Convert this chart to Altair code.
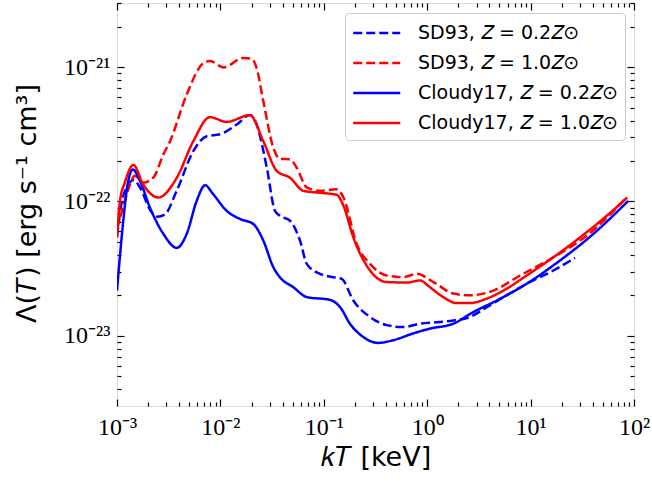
import altair as alt
import pandas as pd

# ---------------- data ----------------
names = ["SD93, 𝑍 = 0.2𝑍⊙", "SD93, 𝑍 = 1.0𝑍⊙",
         "Cloudy17, 𝑍 = 0.2𝑍⊙", "Cloudy17, 𝑍 = 1.0𝑍⊙"]
colors = ["#0000ff", "#ff0000", "#0000ff", "#ff0000"]
dashes = [[9, 4], [9, 4], [1, 0], [1, 0]]

# SD93, Z = 0.2 Zsun (blue dashed)
sd02_kT = [1.00e-3, 1.15e-3, 1.44e-3, 1.67e-3, 2.10e-3, 2.45e-3, 2.90e-3, 3.78e-3, 5.47e-3,
           7.38e-3, 9.91e-3, 1.44e-2, 1.93e-2, 2.24e-2, 2.81e-2, 3.37e-2, 3.77e-2,
           4.71e-2, 5.89e-2, 6.84e-2, 9.18e-2, 0.124, 0.149, 0.193, 0.280, 0.406,
           0.587, 0.851, 1.24, 1.79, 2.59, 3.76, 5.87, 9.16, 16.6, 26.9]
sd02_L = [5.5e-23, 1.10e-22, 1.44e-22, 1.27e-22, 8.6e-23, 7.7e-23, 8.0e-23, 1.20e-22, 2.37e-22,
          3.06e-22, 3.16e-22, 3.74e-22, 4.39e-22, 3.74e-22, 1.78e-22, 8.51e-23, 7.82e-23,
          7.18e-23, 5.11e-23, 3.43e-23, 2.89e-23, 2.73e-23, 2.65e-23, 1.83e-23, 1.38e-23, 1.20e-23,
          1.16e-23, 1.23e-23, 1.26e-23, 1.30e-23, 1.38e-23, 1.63e-23, 2.00e-23, 2.44e-23, 3.06e-23, 3.80e-23]

# SD93, Z = 1.0 Zsun (red dashed)
sd10_kT = [1.00e-3, 1.19e-3, 1.34e-3, 1.49e-3, 1.79e-3, 2.24e-3, 2.81e-3, 3.26e-3,
           4.72e-3, 6.84e-3, 7.93e-3, 1.07e-2, 1.66e-2, 2.01e-2, 2.24e-2, 2.60e-2,
           3.25e-2, 3.77e-2, 4.71e-2, 5.47e-2, 6.84e-2, 9.18e-2, 0.133, 0.155, 0.208,
           0.280, 0.406, 0.587, 0.791, 1.15, 1.79, 2.59, 4.36, 7.91, 16.6, 34.9, 84.9]
sd10_L = [6.2e-23, 1.01e-22, 1.35e-22, 1.55e-22, 1.38e-22, 1.50e-22, 2.24e-22, 2.81e-22,
          6.24e-22, 1.07e-21, 1.11e-21, 9.95e-22, 1.17e-21, 1.15e-21, 9.84e-22, 5.57e-22,
          2.51e-22, 2.07e-22, 2.06e-22, 1.78e-22, 1.27e-22, 1.20e-22, 1.23e-22, 1.07e-22, 4.82e-23,
          3.43e-23, 2.81e-23, 2.73e-23, 2.89e-23, 2.51e-23, 2.06e-23, 2.00e-23, 2.17e-23, 2.81e-23,
          3.84e-23, 5.56e-23, 1.07e-22]

# Cloudy17, Z = 0.2 Zsun (blue solid)
cl02_kT = [1.00e-3, 1.15e-3, 1.24e-3, 1.42e-3, 1.67e-3, 2.08e-3, 2.81e-3, 3.78e-3,
           4.72e-3, 5.90e-3, 7.10e-3, 8.53e-3, 1.15e-2, 1.55e-2, 2.08e-2, 2.60e-2,
           3.25e-2, 3.77e-2, 5.07e-2, 6.84e-2, 0.115, 0.144, 0.179, 0.241, 0.334,
           0.470, 0.730, 1.06, 1.79, 2.79, 4.70, 9.16, 19.2, 40.4, 88.1]
cl02_L = [2.17e-23, 7.18e-23, 1.20e-22, 1.73e-22, 1.42e-22, 9.02e-23, 5.73e-23, 4.51e-23,
          5.73e-23, 1.01e-22, 1.32e-22, 1.13e-22, 8.51e-23, 7.40e-23, 6.79e-23, 5.11e-23,
          3.24e-23, 2.72e-23, 2.30e-23, 1.94e-23, 1.85e-23, 1.63e-23, 1.23e-23, 9.79e-24, 8.85e-24,
          9.27e-24, 1.04e-23, 1.13e-23, 1.23e-23, 1.50e-23, 1.83e-23, 2.44e-23, 3.63e-23, 5.73e-23, 1.01e-22]

# Cloudy17, Z = 1.0 Zsun (red solid)
cl10_kT = [1.00e-3, 1.07e-3, 1.19e-3, 1.44e-3, 1.79e-3, 2.51e-3, 3.78e-3, 5.47e-3,
           7.93e-3, 1.15e-2, 1.93e-2, 2.60e-2, 3.50e-2, 4.71e-2, 6.34e-2, 9.18e-2,
           0.133, 0.155, 0.193, 0.280, 0.406, 0.634, 0.851, 1.06, 1.43, 1.93, 2.59,
           3.76, 5.87, 9.16, 16.6, 30.1, 54.5, 86.1]
cl10_L = [5.37e-23, 1.01e-22, 1.38e-22, 1.87e-22, 1.34e-22, 1.07e-22, 1.50e-22, 2.81e-22,
          4.24e-22, 3.91e-22, 4.39e-22, 2.81e-22, 1.69e-22, 1.50e-22, 1.20e-22, 1.16e-22,
          1.12e-22, 9.27e-23, 5.40e-23, 3.06e-23, 2.51e-23, 2.49e-23, 2.58e-23, 2.30e-23, 1.94e-23,
          1.75e-23, 1.75e-23, 1.89e-23, 2.24e-23, 2.81e-23, 3.84e-23, 5.40e-23, 7.82e-23, 1.07e-22]

x_major = [1e-3, 1e-2, 1e-1, 1e0, 1e1, 1e2]
x_major_labels = ["10⁻³", "10⁻²", "10⁻¹", "10⁰", "10¹", "10²"]
y_major = [1e-23, 1e-22, 1e-21]
y_major_labels = ["10⁻²³", "10⁻²²", "10⁻²¹"]

x_minor = [m * d for d in [1e-3, 1e-2, 1e-1, 1e0, 1e1] for m in range(2, 10)]
y_minor = [m * d for d in [1e-24, 1e-23, 1e-22, 1e-21] for m in range(2, 10)]
y_minor = [v for v in y_minor if 3e-24 <= v <= 3e-21]

# ---------------- table ----------------
frames = []
for nm, kt, lam in [(names[0], sd02_kT, sd02_L), (names[1], sd10_kT, sd10_L),
                    (names[2], cl02_kT, cl02_L), (names[3], cl10_kT, cl10_L)]:
    frames.append(pd.DataFrame({"kT": kt, "L": lam, "series": nm}))
df = pd.concat(frames, ignore_index=True)

W, H = 517, 403
x_scale = alt.Scale(type="log", domain=[1e-3, 1e2], nice=False)
y_scale = alt.Scale(type="log", domain=[3e-24, 3e-21], nice=False)


def label_expr(vals, labs):
    s = ""
    for v, l in zip(vals[:-1], labs[:-1]):
        s += f"datum.value < {v * 3:.3g} ? '{l}' : "
    return s + f"'{labs[-1]}'"


legend = alt.Legend(
    orient="none", legendX=228, legendY=10, title=None,
    symbolType="M-1,0H3", symbolSize=552, symbolStrokeWidth=2.5,
    labelFont="DejaVu Sans", labelFontSize=19, labelColor="black", labelOffset=40,
    labelLimit=500,
    fillColor="white", strokeColor="#cccccc", cornerRadius=4, padding=7,
    rowPadding=7,
)

lines = alt.Chart(df).mark_line(strokeWidth=2.5, interpolate="monotone", clip=True).encode(
    x=alt.X("kT:Q", scale=x_scale, axis=alt.Axis(
        values=x_major, labelExpr=label_expr(x_major, x_major_labels),
        ticks=False, domain=False, grid=False, labelFlush=False, labelOverlap=False,
        labelFont="Liberation Serif", labelFontSize=24, labelColor="black", labelPadding=9,
        title="𝑘𝑇 [keV]", titleFont="DejaVu Sans", titleFontSize=27, titleFontWeight="normal",
        titleColor="black", titleX=W / 2, titleY=59, titleBaseline="alphabetic")),
    y=alt.Y("L:Q", scale=y_scale, axis=alt.Axis(
        values=y_major, labelExpr=label_expr(y_major, y_major_labels),
        ticks=False, domain=False, grid=False, labelFlush=False, labelOverlap=False,
        labelFont="Liberation Serif", labelFontSize=24, labelColor="black", labelPadding=7,
        title="Λ(𝑇) [erg s⁻¹ cm³]", titleFont="DejaVu Sans", titleFontSize=27,
        titleFontWeight="normal", titleColor="black", titleX=-76, titleY=200,
        titleAngle=-90, titleAlign="center", titleBaseline="bottom")),
    color=alt.Color("series:N", scale=alt.Scale(domain=names, range=colors), legend=legend),
    strokeDash=alt.StrokeDash("series:N", scale=alt.Scale(domain=names, range=dashes), legend=legend),
)


def tick_layer(xo, yo, xv, yv, size):
    return alt.Chart(df).mark_point(opacity=0).encode(
        x=alt.X("kT:Q", scale=x_scale, axis=alt.Axis(
            orient=xo, offset=-H, values=xv, tickSize=size, tickWidth=1.2, tickColor="black",
            labels=False, domain=False, grid=False, title="")),
        y=alt.Y("L:Q", scale=y_scale, axis=alt.Axis(
            orient=yo, offset=-W, values=yv, tickSize=size, tickWidth=1.2, tickColor="black",
            labels=False, domain=False, grid=False, title="")),
    )


chart = alt.layer(
    lines,
    tick_layer("top", "right", x_major, y_major, 7),
    tick_layer("top", "right", x_minor, y_minor, 4),
    tick_layer("bottom", "left", x_major, y_major, 7),
    tick_layer("bottom", "left", x_minor, y_minor, 4),
).resolve_axis(x="independent", y="independent").properties(
    width=W, height=H,
    autosize=alt.AutoSizeParams(type="none"),
    padding={"left": 117, "top": 3, "right": 18, "bottom": 76},
).configure_view(stroke="black", strokeWidth=1.5).configure(background="white")

chart.save("out.html", embed_options={"renderer": "svg", "actions": False})
